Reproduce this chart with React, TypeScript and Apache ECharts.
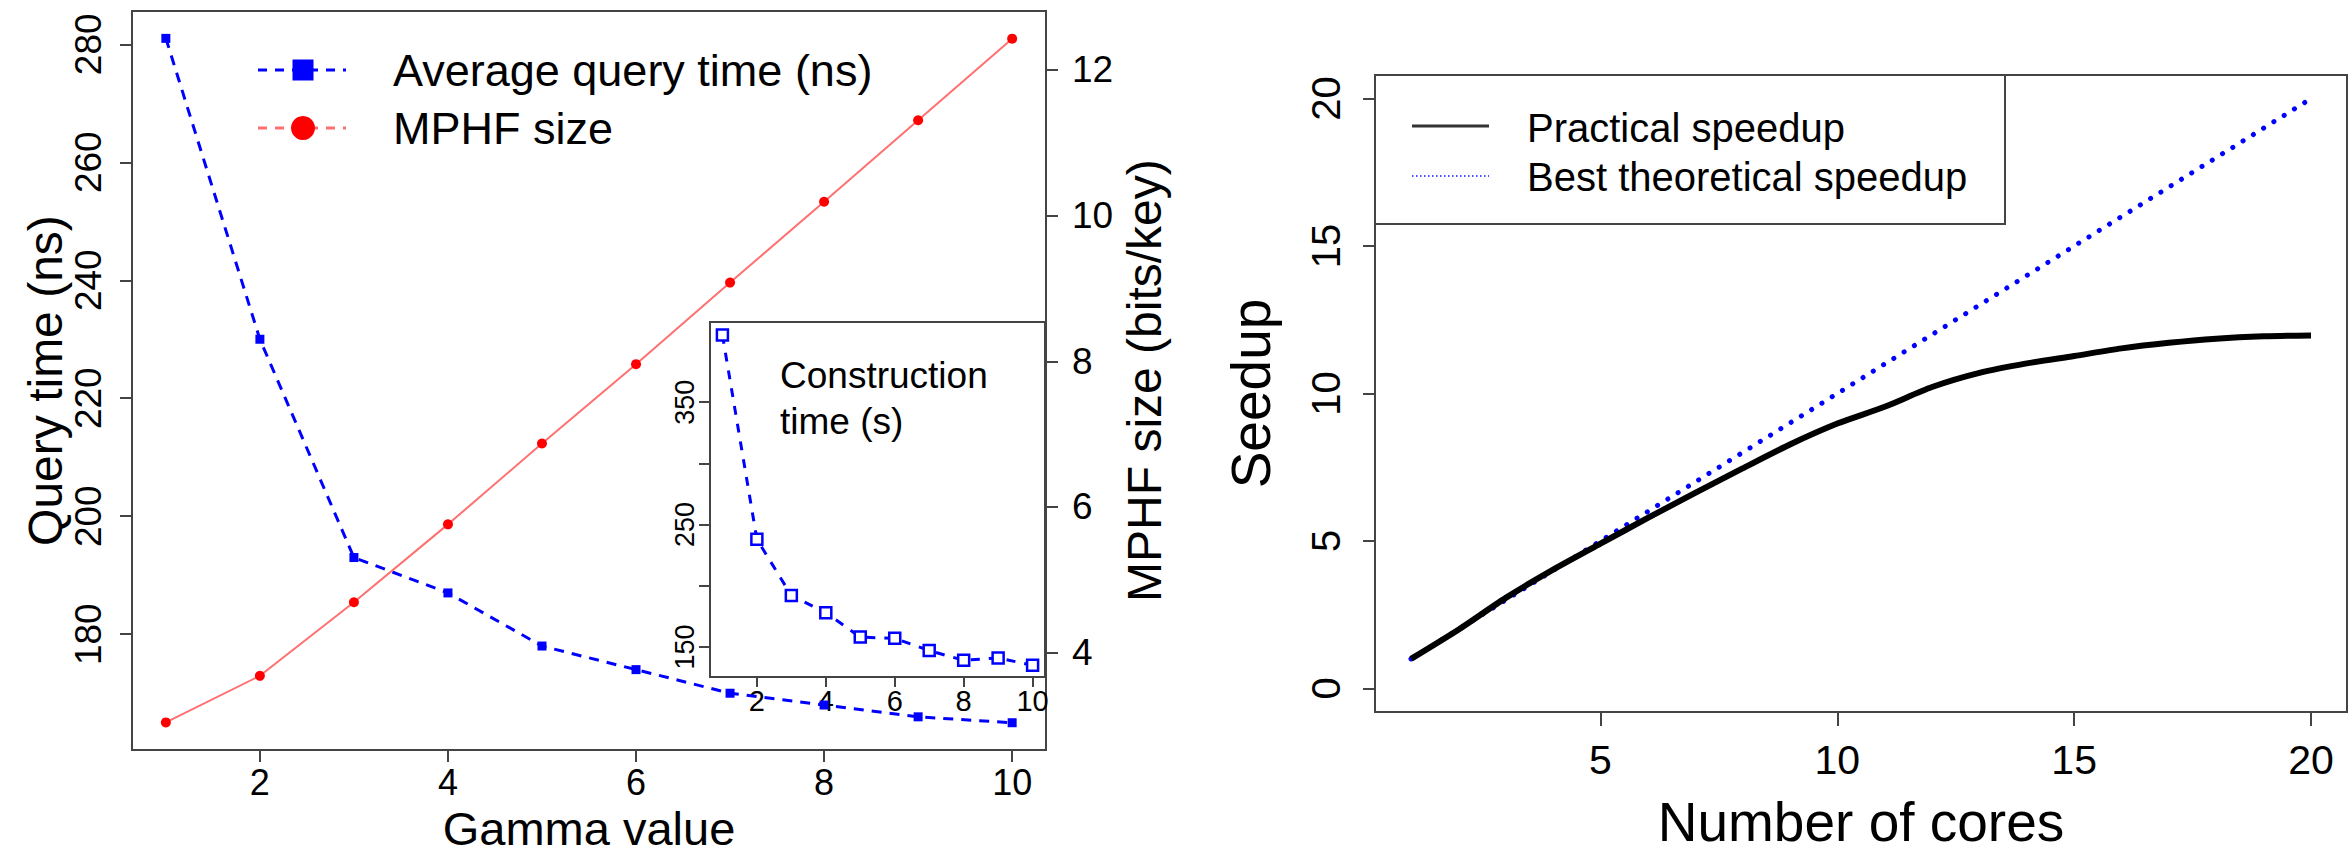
import React, { useEffect, useRef } from "react";
import * as echarts from "echarts";

// ---------- data ----------
const gamma = [1, 2, 3, 4, 5, 6, 7, 8, 9, 10];
const queryTime = [281, 230, 193, 187, 178, 174, 170, 168, 166, 165];
const mphfSize = [3.04, 3.68, 4.69, 5.76, 6.87, 7.96, 9.08, 10.19, 11.31, 12.43];
const constructionTime = [405, 238, 192, 178, 158, 157, 147, 139, 141, 135];

const cores = [1, 2, 3, 4, 5, 6, 7, 8, 9, 10, 11, 12, 13, 14, 15, 16, 17, 18, 19, 20];
const practicalSpeedup = [1.0, 1.99, 3.07, 4.03, 4.91, 5.78, 6.63, 7.46, 8.27, 8.98, 9.55, 10.22, 10.7, 11.02, 11.27, 11.53, 11.72, 11.86, 11.94, 11.97];
const theoreticalSpeedup = [1, 2, 3, 4, 5, 6, 7, 8, 9, 10, 11, 12, 13, 14, 15, 16, 17, 18, 19, 20];

const gammaTicks = [2, 4, 6, 8, 10];
const queryTicks = [180, 200, 220, 240, 260, 280];
const sizeTicks = [4, 6, 8, 10, 12];
const constrTicks = [150, 200, 250, 300, 350];
const constrLabels = [150, 250, 350];
const coreTicks = [5, 10, 15, 20];
const speedupTicks = [0, 5, 10, 15, 20];

const FONT = "'Liberation Sans', Arial, Helvetica, sans-serif";
const AX = "#444";

function pairs(xs: number[], ys: number[]) {
  return xs.map((x, i) => [x, ys[i]]);
}

function valueAxis(opts: any) {
  const { min, max, ticks, labels, fontSize, margin, rotate, gridIndex, position, tickLen } = opts;
  return {
    type: "value",
    gridIndex,
    position,
    min,
    max,
    axisLine: { show: false, onZero: false },
    axisTick: {
      show: true,
      length: tickLen ?? 12,
      customValues: ticks,
      lineStyle: { color: AX, width: 2 },
    },
    axisLabel: {
      show: true,
      customValues: labels ?? ticks,
      fontSize,
      margin,
      rotate: rotate ?? 0,
      color: "#000",
      fontFamily: FONT,
    },
    splitLine: { show: false },
    nameTextStyle: { fontFamily: FONT, color: "#000" },
  };
}

export default function App() {
  const ref = useRef<HTMLDivElement>(null);

  useEffect(() => {
    if (!ref.current) return;
    const chart = echarts.init(ref.current, null, { renderer: "svg" });

    const option: any = {
      animation: false,
      backgroundColor: "#fff",
      textStyle: { fontFamily: FONT },
      grid: [
        { left: 132, top: 11, width: 914, height: 751, show: true, borderColor: AX, borderWidth: 2, backgroundColor: "transparent" },
        { left: 710, top: 322, width: 335, height: 355, show: true, borderColor: AX, borderWidth: 2, backgroundColor: "#fff" },
        { left: 1375, top: 75, width: 972, height: 637, show: true, borderColor: AX, borderWidth: 2, backgroundColor: "transparent" },
      ],
      xAxis: [
        {
          ...valueAxis({ gridIndex: 0, position: "bottom", min: 0.64, max: 10.36, ticks: gammaTicks, fontSize: 36, margin: 14 }),
          name: "Gamma value",
          nameLocation: "middle",
          nameGap: 51,
          nameTextStyle: { fontFamily: FONT, color: "#000", fontSize: 47 },
        },
        {
          ...valueAxis({ gridIndex: 1, position: "bottom", min: 0.64, max: 10.36, ticks: gammaTicks, fontSize: 29, margin: 9, tickLen: 10 }),
        },
        {
          ...valueAxis({ gridIndex: 2, position: "bottom", min: 0.24, max: 20.76, ticks: coreTicks, fontSize: 41, margin: 27, tickLen: 14 }),
          name: "Number of cores",
          nameLocation: "middle",
          nameGap: 82,
          nameTextStyle: { fontFamily: FONT, color: "#000", fontSize: 55 },
        },
      ],
      yAxis: [
        {
          ...valueAxis({ gridIndex: 0, position: "left", min: 160.36, max: 285.64, ticks: queryTicks, fontSize: 37, margin: 25, rotate: 90 }),
          name: "Query time (ns)",
          nameLocation: "middle",
          nameRotate: 90,
          nameGap: 63,
          nameTextStyle: { fontFamily: FONT, color: "#000", fontSize: 48 },
        },
        {
          ...valueAxis({ gridIndex: 0, position: "right", min: 2.66, max: 12.81, ticks: sizeTicks, fontSize: 37, margin: 26 }),
          name: "MPHF size (bits/key)",
          nameLocation: "middle",
          nameRotate: 90,
          nameGap: 74,
          nameTextStyle: { fontFamily: FONT, color: "#000", fontSize: 48 },
        },
        {
          ...valueAxis({ gridIndex: 1, position: "left", min: 125.4, max: 415.6, ticks: constrTicks, labels: constrLabels, fontSize: 27, margin: 12, rotate: 90, tickLen: 11 }),
        },
        {
          ...valueAxis({ gridIndex: 2, position: "left", min: -0.8, max: 20.8, ticks: speedupTicks, fontSize: 40, margin: 29, rotate: 90 }),
          name: "Seedup",
          nameLocation: "middle",
          nameRotate: 90,
          nameGap: 97,
          nameTextStyle: { fontFamily: FONT, color: "#000", fontSize: 55 },
        },
      ],
      series: [
        {
          name: "Average query time (ns)",
          type: "line",
          xAxisIndex: 0,
          yAxisIndex: 0,
          data: pairs(gamma, queryTime),
          symbol: "rect",
          symbolSize: 9,
          itemStyle: { color: "#0000ff" },
          lineStyle: { color: "#0000ff", width: 3, type: [10, 8] },
          z: 3,
        },
        {
          name: "MPHF size",
          type: "line",
          xAxisIndex: 0,
          yAxisIndex: 1,
          data: pairs(gamma, mphfSize),
          symbol: "circle",
          symbolSize: 10,
          itemStyle: { color: "#ff0000" },
          lineStyle: { color: "#ff7070", width: 2 },
          z: 3,
        },
        {
          name: "Construction time (s)",
          type: "line",
          xAxisIndex: 1,
          yAxisIndex: 2,
          data: pairs(gamma, constructionTime),
          symbol: "rect",
          symbolSize: 11,
          itemStyle: { color: "#fff", borderColor: "#0000ff", borderWidth: 2.5 },
          lineStyle: { color: "#0000ff", width: 3, type: [9, 9] },
          z: 5,
        },
        {
          name: "Best theoretical speedup",
          type: "line",
          xAxisIndex: 2,
          yAxisIndex: 3,
          data: pairs(cores, theoreticalSpeedup),
          showSymbol: false,
          symbol: "none",
          lineStyle: { color: "#0000ff", width: 5, type: [0.1, 12], cap: "round" },
          z: 3,
        },
        {
          name: "Practical speedup",
          type: "line",
          xAxisIndex: 2,
          yAxisIndex: 3,
          data: pairs(cores, practicalSpeedup),
          showSymbol: false,
          symbol: "none",
          smooth: 0.25,
          lineStyle: { color: "#000", width: 6 },
          z: 4,
        },
      ],
      graphic: [
        // left legend
        { type: "line", shape: { x1: 258, y1: 70, x2: 346, y2: 70 }, style: { stroke: "#0000ff", lineWidth: 3, lineDash: [9, 8] }, z: 10 },
        { type: "rect", shape: { x: 292.5, y: 59.5, width: 21, height: 21 }, style: { fill: "#0000ff" }, z: 11 },
        { type: "text", x: 393, y: 70, style: { text: "Average query time (ns)", fontSize: 45, fontFamily: FONT, fill: "#000", verticalAlign: "middle", align: "left" }, z: 11 },
        { type: "line", shape: { x1: 258, y1: 128, x2: 346, y2: 128 }, style: { stroke: "#ff7070", lineWidth: 3, lineDash: [9, 8] }, z: 10 },
        { type: "circle", shape: { cx: 303, cy: 128, r: 12 }, style: { fill: "#ff0000" }, z: 11 },
        { type: "text", x: 393, y: 128, style: { text: "MPHF size", fontSize: 45, fontFamily: FONT, fill: "#000", verticalAlign: "middle", align: "left" }, z: 11 },
        // inset caption
        { type: "text", x: 780, y: 352, style: { text: "Construction\ntime (s)", fontSize: 37, lineHeight: 46, fontFamily: FONT, fill: "#000", align: "left", verticalAlign: "top" }, z: 11 },
        // right legend
        { type: "rect", shape: { x: 1375, y: 75, width: 630, height: 149 }, style: { fill: "#fff", stroke: AX, lineWidth: 2 }, z: 10 },
        { type: "line", shape: { x1: 1412, y1: 126, x2: 1489, y2: 126 }, style: { stroke: "#333", lineWidth: 3 }, z: 11 },
        { type: "text", x: 1527, y: 128, style: { text: "Practical speedup", fontSize: 40, fontFamily: FONT, fill: "#000", verticalAlign: "middle", align: "left" }, z: 11 },
        { type: "line", shape: { x1: 1412, y1: 176, x2: 1489, y2: 176 }, style: { stroke: "#4d4dff", lineWidth: 2, lineDash: [1.5, 2.5] }, z: 11 },
        { type: "text", x: 1527, y: 177, style: { text: "Best theoretical speedup", fontSize: 40, fontFamily: FONT, fill: "#000", verticalAlign: "middle", align: "left" }, z: 11 },
      ],
    };

    chart.setOption(option);
    return () => chart.dispose();
  }, []);

  return (
    <div
      ref={ref}
      style={{ position: "fixed", left: 0, top: 0, width: 2350, height: 857, background: "#fff" }}
    />
  );
}
